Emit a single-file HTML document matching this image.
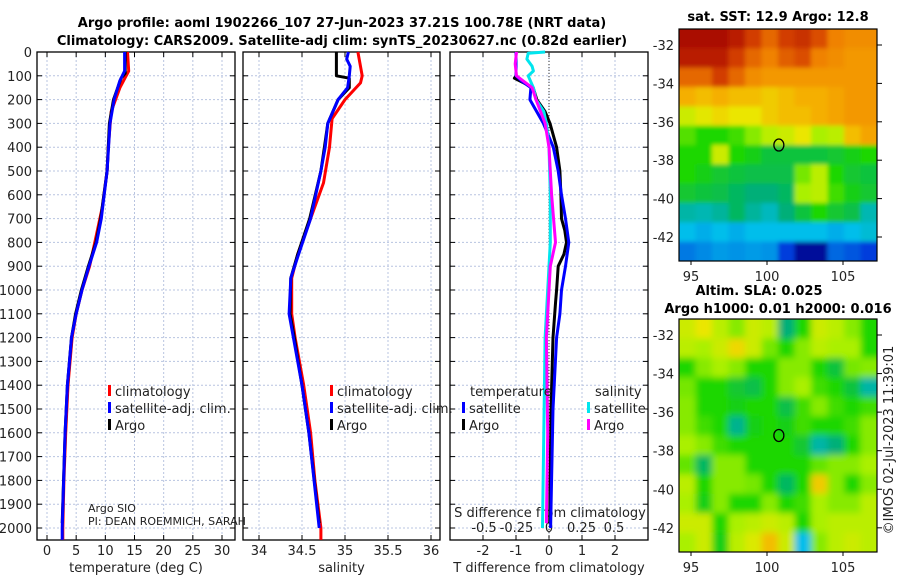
<!DOCTYPE html>
<html><head><meta charset="utf-8"><style>
body{margin:0;background:#fff;}
svg{display:block;font-family:"DejaVu Sans","Liberation Sans",sans-serif;}
.t{font-size:13px;fill:#222;}
.b{font-size:13px;font-weight:bold;fill:#000;}
</style></head><body>
<svg id="s" width="900" height="580" viewBox="0 0 900 580" xmlns="http://www.w3.org/2000/svg">
<defs>
<filter id="bl"><feGaussianBlur stdDeviation="2"/></filter>
<filter id="bl2"><feGaussianBlur stdDeviation="3.5"/></filter>
<clipPath id="c1"><rect x="679" y="29" width="198" height="232"/></clipPath>
<clipPath id="c2"><rect x="679" y="319" width="198" height="233"/></clipPath>
</defs>
<text class="b" x="342" y="27" text-anchor="middle">Argo profile: aoml 1902266_107 27-Jun-2023 37.21S 100.78E (NRT data)</text>
<text class="b" x="342" y="45" text-anchor="middle">Climatology: CARS2009. Satellite-adj clim: synTS_20230627.nc (0.82d earlier)</text>
<g id="g"></g>
</svg>
<script>
// ---- data ----
const depthTicks=[0,100,200,300,400,500,600,700,800,900,1000,1100,1200,1300,1400,1500,1600,1700,1800,1900,2000];
const tempTicks=[0,5,10,15,20,25,30];
const salTicks=[34,34.5,35,35.5,36];
const tdTicks=[-2,-1,0,1,2];
const sdTicks=[-0.5,-0.25,0,0.25,0.5];
const sdTickLabels=["-0.5","-0.25","0","0.25","0.5"];
const tClimD=[0,80,150,250,400,500,650,800,900,1000,1100,1200,1400,1600,1800,2000,2050];
const tClim=[13.8,14,12.5,11,10.5,10.3,9.5,8.2,7.3,6,5,4.3,3.6,3.2,2.9,2.7,2.7];
const tSatD=[0,80,120,200,300,500,700,800,900,1000,1100,1200,1400,1600,2000,2050];
const tSat=[13.3,13.3,12.5,11.5,10.8,10.3,9.3,8.5,7.2,6,5,4.2,3.5,3.1,2.6,2.6];
const tArgoD=[0,90,110,200,300,500,700,800,900,1000,1100,1200,1400,1600,1980];
const tArgo=[13.4,13.4,12.7,11.4,10.7,10.3,9.2,8.4,7.1,5.9,4.9,4.2,3.5,3.1,2.6];
const sClimD=[0,100,130,200,280,400,550,700,850,950,1000,1100,1200,1400,1600,1800,2000,2050];
const sClim=[35.15,35.2,35.18,35.0,34.85,34.82,34.75,34.6,34.45,34.38,34.38,34.38,34.42,34.52,34.6,34.65,34.72,34.72];
const sSatD=[0,30,60,100,150,200,300,400,500,700,850,950,1100,1200,1400,1600,2000];
const sSat=[35.04,35.02,35.06,35.05,35.03,34.92,34.8,34.77,34.72,34.6,34.46,34.37,34.35,34.4,34.5,34.58,34.7];
const sArgoD=[0,100,110,150,200,300,400,500,700,850,950,1100,1200,1400,1600,1980];
const sArgo=[34.9,34.9,35.05,35.05,34.92,34.8,34.76,34.72,34.59,34.45,34.37,34.36,34.41,34.5,34.58,34.7];
const dtSatD=[0,100,120,150,200,300,400,500,600,700,800,900,1000,1100,1200,1500,2000];
const dtSat=[-1,-1,-0.85,-0.55,-0.58,-0.17,0.13,0.28,0.38,0.5,0.6,0.5,0.38,0.33,0.23,0.12,0.05];
const dtArgoD=[0,100,110,150,200,250,300,400,500,600,700,750,800,850,900,1000,1050,1200,1500,1980];
const dtArgo=[-1,-1,-1.05,-0.48,-0.37,-0.12,0.03,0.23,0.33,0.36,0.38,0.48,0.53,0.45,0.28,0.23,0.2,0.12,0.06,0.02];
const dsSatD=[0,5,30,60,80,100,150,200,250,300,400,600,800,900,1000,1200,1600,2000];
const dsSat=[-0.03,-0.16,-0.17,-0.13,-0.12,-0.16,-0.12,-0.1,-0.04,-0.02,0,0.01,0.01,0,-0.01,-0.03,-0.04,-0.05];
const dsArgoD=[0,50,100,150,200,300,400,600,800,900,1000,1200,1600,1980];
const dsArgo=[-0.25,-0.26,-0.25,-0.13,-0.1,-0.03,0,0.02,0.05,0.01,0,-0.02,-0.01,-0.02];
const sstGrid=[
[.98,.98,.98,.95,.9,.85,.9,.92,.88,.82,.8,.8],
[.95,.95,.95,.9,.85,.82,.86,.88,.82,.8,.78,.78],
[.85,.85,.9,.85,.8,.78,.78,.78,.78,.78,.78,.78],
[.74,.72,.74,.72,.72,.7,.72,.74,.74,.76,.78,.78],
[.62,.65,.68,.66,.66,.7,.72,.72,.74,.76,.78,.78],
[.53,.5,.5,.52,.56,.6,.62,.66,.58,.6,.72,.76],
[.5,.5,.62,.5,.48,.45,.45,.45,.45,.46,.48,.5],
[.5,.48,.46,.45,.44,.44,.44,.55,.6,.5,.46,.45],
[.46,.45,.44,.42,.4,.4,.42,.58,.6,.52,.48,.46],
[.36,.35,.37,.42,.37,.34,.4,.45,.5,.46,.44,.35],
[.3,.28,.3,.28,.3,.3,.3,.3,.3,.28,.3,.32],
[.22,.24,.26,.25,.26,.25,.15,.04,.04,.2,.18,.15]];
const slaGrid=[
[.62,.66,.6,.56,.62,.6,.4,.5,.62,.6,.56,.5],
[.6,.58,.62,.68,.62,.55,.5,.56,.6,.58,.58,.5],
[.5,.56,.58,.56,.5,.5,.56,.56,.5,.45,.55,.56],
[.55,.5,.5,.46,.44,.5,.56,.58,.52,.5,.45,.36],
[.56,.5,.5,.48,.5,.5,.44,.52,.56,.52,.5,.52],
[.56,.52,.5,.38,.48,.5,.48,.52,.5,.5,.52,.56],
[.58,.56,.52,.5,.5,.5,.5,.46,.36,.4,.5,.56],
[.54,.42,.56,.56,.5,.5,.5,.5,.54,.56,.56,.58],
[.6,.5,.56,.56,.55,.5,.42,.5,.7,.56,.5,.56],
[.58,.48,.56,.5,.5,.56,.5,.52,.58,.56,.56,.6],
[.62,.62,.5,.58,.6,.62,.6,.5,.58,.6,.6,.6],
[.58,.62,.48,.6,.64,.72,.62,.3,.56,.6,.62,.6]];
// ---- drawing ----
const NS="http://www.w3.org/2000/svg";
const G=document.getElementById('g');
function mk(t,a,p){const e=document.createElementNS(NS,t);for(const k in a)e.setAttribute(k,a[k]);(p||G).appendChild(e);return e;}
const Y0=52, DY=476/2000;
const yD=d=>Y0+d*DY;
const panels=[
 {x0:37,x1:235,sx:v=>47+v*175/30,ticks:tempTicks,lbl:tempTicks.map(String),name:'temperature-panel',xl:'temperature (deg C)'},
 {x0:243,x1:440,sx:v=>259+(v-34)*86,ticks:salTicks,lbl:["34","34.5","35","35.5","36"],name:'salinity-panel',xl:'salinity'},
 {x0:450,x1:648,sx:v=>549+v*33,ticks:tdTicks,lbl:tdTicks.map(String),name:'difference-panel',xl:'T difference from climatology'}];
const sS=v=>549+v*130;
panels.forEach((p,i)=>{
 const g=mk('g',{});
 
 
 depthTicks.forEach(d=>{const l=mk('line',{x1:p.x0,x2:p.x1,y1:yD(d),y2:yD(d),stroke:'#b8c4e0','stroke-dasharray':'2,2','stroke-width':1},g);
  mk('line',{x1:p.x0,x2:p.x0+5,y1:yD(d),y2:yD(d),stroke:'#000'},g);mk('line',{x1:p.x1-5,x2:p.x1,y1:yD(d),y2:yD(d),stroke:'#000'},g);});
 p.ticks.forEach((v,j)=>{const x=p.sx(v);const l=mk('line',{x1:x,x2:x,y1:Y0,y2:540,stroke:'#b8c4e0','stroke-dasharray':'2,2'},g);
  mk('line',{x1:x,x2:x,y1:540,y2:535,stroke:'#000'},g);mk('line',{x1:x,x2:x,y1:Y0,y2:Y0+5,stroke:'#000'},g);
  const t=mk('text',{x:x,y:555,class:'t','text-anchor':'middle'},g);t.textContent=p.lbl[j];});
 const r=mk('rect',{x:p.x0,y:Y0,width:p.x1-p.x0,height:488,fill:'none',stroke:'#000','stroke-width':1.3},g);
 const xl=mk('text',{x:(p.x0+p.x1)/2,y:572,class:'t','text-anchor':'middle'},g);xl.textContent=p.xl;
});
depthTicks.forEach(d=>{const t=mk('text',{x:32,y:yD(d)+5,class:'t','text-anchor':'end'});t.textContent=d;});
sdTicks.forEach((v,j)=>{const t=mk('text',{x:sS(v),y:532,class:'t','text-anchor':'middle'});t.textContent=sdTickLabels[j];});
const sdt=mk('text',{x:550,y:517,class:'t','text-anchor':'middle'});sdt.textContent='S difference from climatology';
const zl=mk('line',{x1:549,x2:549,y1:Y0,y2:540,stroke:'#333','stroke-dasharray':'1,2'});
function line(ds,vs,sx,col,name,w){const pts=ds.map((d,i)=>sx(vs[i]).toFixed(1)+','+yD(d).toFixed(1)).join(' ');const e=mk('polyline',{points:pts,fill:'none',stroke:col,'stroke-width':w||3,'stroke-linejoin':'round'});}
const P=panels;
line(tClimD,tClim,P[0].sx,'#f00','temp-climatology-line');
line(tArgoD,tArgo,P[0].sx,'#000','temp-argo-line');
line(tSatD,tSat,P[0].sx,'#00f','temp-satellite-line');
line(sClimD,sClim,P[1].sx,'#f00','sal-climatology-line');
line(sArgoD,sArgo,P[1].sx,'#000','sal-argo-line');
line(sSatD,sSat,P[1].sx,'#00f','sal-satellite-line');
line(dtArgoD,dtArgo,P[2].sx,'#000','t-diff-argo-line');
line(dtSatD,dtSat,P[2].sx,'#00f','t-diff-satellite-line');
line(dsSatD,dsSat,sS,'#00e5ee','s-diff-satellite-line');
line(dsArgoD,dsArgo,sS,'#f0f','s-diff-argo-line');
function leg(x,y,col,txt,name){const g=mk('g',{});
 if(col)mk('rect',{x:x,y:y-11,width:3,height:11,fill:col},g);const t=mk('text',{x:x+(col?7:0),y:y,class:'t'},g);t.textContent=txt;}
leg(108,396,'#f00','climatology','legend-climatology');leg(108,413,'#00f','satellite-adj. clim.','legend-satellite');leg(108,430,'#000','Argo','legend-argo');
leg(330,396,'#f00','climatology','legend-climatology-2');leg(330,413,'#00f','satellite-adj. clim.','legend-satellite-2');leg(330,430,'#000','Argo','legend-argo-2');
leg(470,396,null,'temperature','legend-temperature-title');leg(462,413,'#00f','satellite','legend-t-satellite');leg(462,430,'#000','Argo','legend-t-argo');
leg(595,396,null,'salinity','legend-salinity-title');leg(587,413,'#00e5ee','satellite','legend-s-satellite');leg(587,430,'#f0f','Argo','legend-s-argo');
const a1=mk('text',{x:88,y:512,style:'font-size:11px;fill:#222'});a1.textContent='Argo SIO';
const a2=mk('text',{x:88,y:525,style:'font-size:11px;fill:#222'});a2.textContent='PI: DEAN ROEMMICH, SARAH';
// ---- maps ----
const cmStops=[[0,[0,0,130]],[0.15,[0,60,220]],[0.3,[0,190,235]],[0.4,[0,175,120]],[0.5,[30,215,0]],[0.58,[170,240,0]],[0.66,[235,230,0]],[0.74,[245,175,0]],[0.82,[240,130,0]],[0.9,[210,60,0]],[1,[160,0,0]]];
function cmap(x){x=Math.max(0,Math.min(1,x));for(let i=1;i<cmStops.length;i++){const [a,ca]=cmStops[i-1],[b,cb]=cmStops[i];if(x<=b){const f=(x-a)/(b-a);return 'rgb('+ca.map((c,k)=>Math.round(c+(cb[k]-c)*f)).join(',')+')';}}return 'rgb(160,0,0)';}
function map(grid,y0,h,clip,name,blur){
 const g=mk('g',{'clip-path':`url(#${clip})`});
 const inner=mk('g',{filter:`url(#${blur})`},g);
 const R=grid.length,C=grid[0].length,cw=198/C,ch=h/R;
 grid.forEach((row,r)=>row.forEach((v,c)=>{const e=mk('rect',{x:679+c*cw-(c==0?6:0),y:y0+r*ch-(r==0?6:0),width:cw+(c==0||c==C-1?6:0)+0.5,height:ch+(r==0||r==R-1?6:0)+0.5,fill:cmap(v)},inner);}));
 const lonX=l=>691+(l-95)*15.2;
 const fr=mk('rect',{x:679,y:y0,width:198,height:h,fill:'none',stroke:'#000','stroke-width':1.2});
 [95,100,105].forEach(l=>{const t=mk('text',{x:lonX(l),y:y0+h+20,class:'t','text-anchor':'middle'});t.textContent=l;
  mk('line',{x1:lonX(l),x2:lonX(l),y1:y0+h,y2:y0+h+4,stroke:'#000'});});
 const latY=la=>y0+16+(-32-la)*19.2*(h/232);
 [-32,-34,-36,-38,-40,-42].forEach(la=>{const t=mk('text',{x:674,y:latY(la)+5,class:'t','text-anchor':'end'});t.textContent=la;
  mk('line',{x1:877,x2:882,y1:latY(la),y2:latY(la),stroke:'#000'});});
 const ci=mk('ellipse',{cx:lonX(100.78),cy:latY(-37.21),rx:5,ry:6,fill:'none',stroke:'#000','stroke-width':1.3});
}
map(sstGrid,29,232,'c1','sst-map','bl');
map(slaGrid,319,233,'c2','sla-map','bl2');
const m1=mk('text',{x:778,y:21,class:'b','text-anchor':'middle'});m1.textContent='sat. SST: 12.9 Argo: 12.8';
const m2=mk('text',{x:759,y:295,class:'b','text-anchor':'middle'});m2.textContent='Altim. SLA: 0.025';
const m3=mk('text',{x:778,y:313,class:'b','text-anchor':'middle'});m3.textContent='Argo h1000: 0.01 h2000: 0.016';
const cp=mk('text',{x:893,y:440,class:'t','text-anchor':'middle',transform:'rotate(-90 893 440)'});cp.textContent='©IMOS 02-Jul-2023 11:39:01';
</script>
</body></html>
